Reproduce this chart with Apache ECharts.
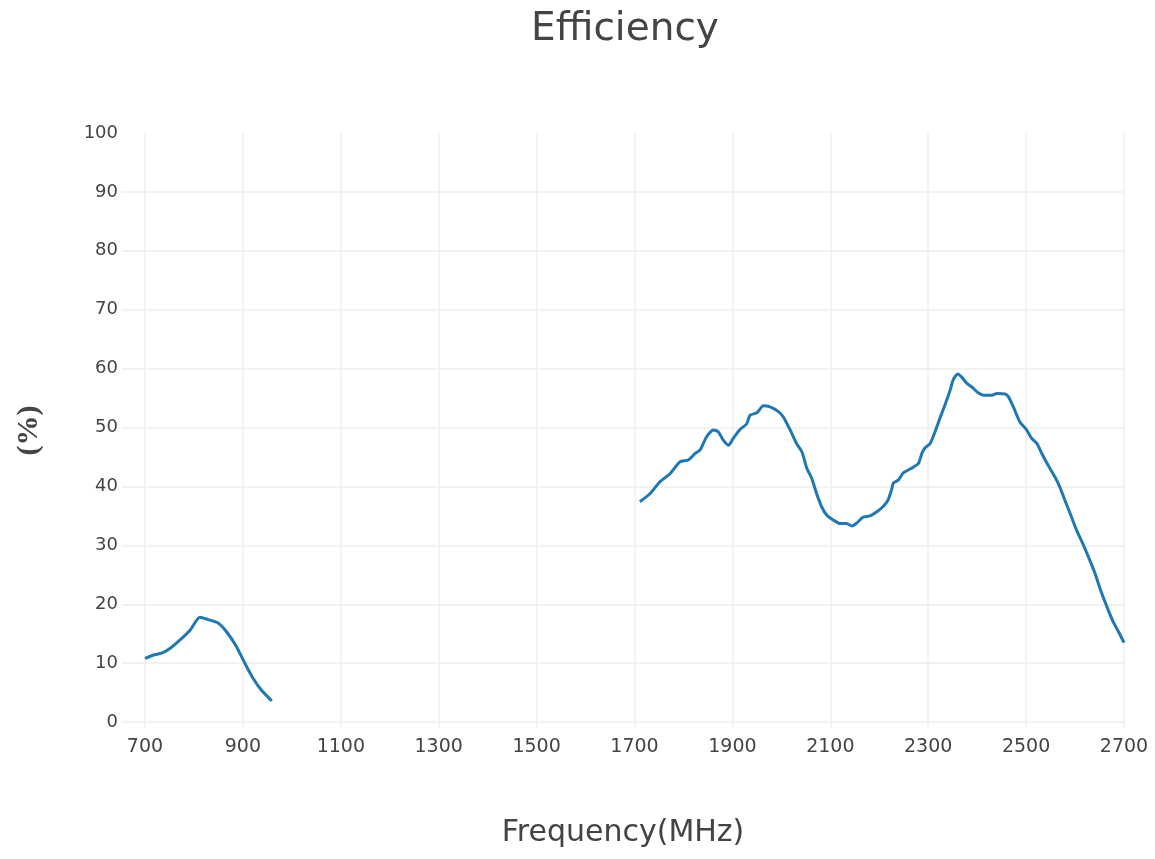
<!DOCTYPE html>
<html>
<head>
    <meta charset="UTF-8">
    <title>Efficiency</title>
    <script src="https://cdn.jsdelivr.net/npm/echarts@6/dist/echarts.min.js"></script>
    <style>
        body, html {
            margin: 0;
            padding: 0;
            height: 100%;
            width: 100%;
        }

        #chart {
            width: 1155px;
            height: 859px;
        }
    </style>
</head>
<body>
<div id="chart"></div>
<script>
    // 低频段
    var freqLow = [700, 717, 734, 751, 771, 792, 812, 829, 850, 867, 887, 904, 921, 938, 959];
    var effLow = [10.8, 11.4, 11.7, 12.5, 13.9, 15.6, 17.8, 17.4, 16.8, 15.3, 12.8, 10.0, 7.4, 5.4, 3.6];

    // 高频段
    var freqHigh = [1711, 1732, 1752, 1773, 1793, 1810, 1824, 1834, 1847, 1861, 1871, 1881, 1892, 1902, 1916,
        1929, 1936, 1950, 1963, 1977, 1994, 2004, 2018, 2031, 2042, 2052, 2062, 2072, 2082, 2093, 2106, 2120,
        2133, 2144, 2154, 2167, 2181, 2195, 2208, 2218, 2225, 2229, 2239, 2249, 2266, 2280, 2287, 2293, 2304,
        2314, 2324, 2334, 2345, 2351, 2360, 2368, 2379, 2389, 2402, 2413, 2430, 2440, 2457, 2464, 2474, 2487,
        2501, 2511, 2522, 2532, 2545, 2559, 2569, 2579, 2590, 2603, 2617, 2630, 2641, 2651, 2665, 2678, 2689, 2700];
    var effHigh = [37.4, 38.8, 40.8, 42.2, 44.2, 44.5, 45.6, 46.2, 48.4, 49.6, 49.3, 47.9, 47.0, 48.2, 49.7,
        50.6, 52.1, 52.5, 53.7, 53.5, 52.7, 51.8, 49.6, 47.3, 45.9, 43.1, 41.4, 38.8, 36.6, 35.1, 34.3, 33.7,
        33.7, 33.3, 33.8, 34.8, 35.0, 35.7, 36.6, 37.7, 39.4, 40.6, 41.1, 42.3, 43.1, 43.9, 45.6, 46.5, 47.3,
        49.3, 51.6, 53.8, 56.4, 58.1, 59.1, 58.6, 57.5, 56.9, 55.9, 55.5, 55.5, 55.8, 55.7, 55.2, 53.5, 51.0,
        49.6, 48.2, 47.3, 45.6, 43.6, 41.6, 39.9, 37.7, 35.4, 32.6, 30.1, 27.5, 25.2, 22.7, 19.6, 17.0, 15.3, 13.5];

    var xTicks = [700, 900, 1100, 1300, 1500, 1700, 1900, 2100, 2300, 2500, 2700];
    var yTicks = [0, 10, 20, 30, 40, 50, 60, 70, 80, 90, 100];

    function pairs(xs, ys) {
        return xs.map(function (x, i) { return [x, ys[i]]; });
    }

    var font = "'DejaVu Sans', Verdana, sans-serif";
    var chart = echarts.init(document.getElementById('chart'), null, {renderer: 'canvas'});

    var option = {
        backgroundColor: '#fff',
        animation: false,
        title: {
            text: 'Efficiency',
            left: 620,
            textAlign: 'center',
            top: 5,
            textStyle: {fontFamily: font, fontSize: 39, fontWeight: 'normal', color: '#444'}
        },
        grid: {left: 122, right: 31, top: 133, bottom: 131},
        xAxis: {
            type: 'value',
            min: 653,
            max: 2700,
            name: 'Frequency(MHz)',
            nameLocation: 'middle',
            nameGap: 90,
            nameTextStyle: {fontFamily: font, fontSize: 30, color: '#444'},
            axisLine: {show: false},
            axisTick: {show: false, customValues: xTicks},
            axisLabel: {
                customValues: xTicks, fontFamily: font, fontSize: 19, color: '#444', margin: 10,
                formatter: function (v) { return String(v); }
            },
            splitLine: {show: true, customValues: xTicks, lineStyle: {color: '#eee', width: 1.5}}
        },
        yAxis: {
            type: 'value',
            min: -1,
            max: 100,
            name: '(%)',
            nameLocation: 'middle',
            nameGap: 78,
            nameTextStyle: {
                fontFamily: "'Liberation Serif', 'Times New Roman', serif",
                fontSize: 30, fontWeight: 'bold', color: '#444'
            },
            axisLine: {show: false},
            axisTick: {show: false, customValues: yTicks},
            axisLabel: {customValues: yTicks, fontFamily: font, fontSize: 18, color: '#444', margin: 4},
            splitLine: {show: true, customValues: yTicks, showMaxLine: false, lineStyle: {color: '#eee', width: 1.5}}
        },
        series: [
            {
                type: 'line',
                data: pairs(freqLow, effLow),
                showSymbol: false,
                smooth: 0.2,
                lineStyle: {color: '#1f77b4', width: 3}
            },
            {
                type: 'line',
                data: pairs(freqHigh, effHigh),
                showSymbol: false,
                smooth: 0.2,
                lineStyle: {color: '#1f77b4', width: 3}
            }
        ]
    };
    chart.setOption(option);
</script>
</body>
</html>
